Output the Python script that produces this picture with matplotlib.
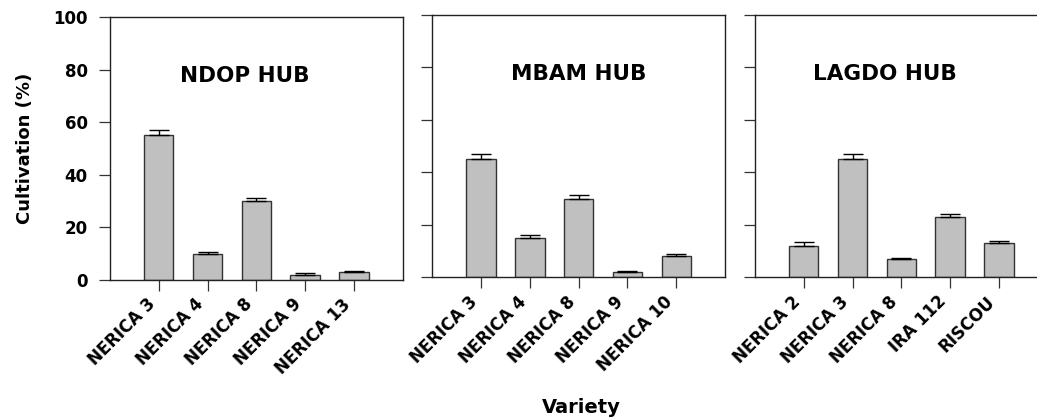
import matplotlib
matplotlib.use("Agg")
import matplotlib.pyplot as plt

plt.rcParams['font.family'] = ['DejaVu Sans']
plt.rcParams['font.weight'] = 'bold'

hubs = ["NDOP HUB", "MBAM HUB", "LAGDO HUB"]
ndop_varieties = ["NERICA 3", "NERICA 4", "NERICA 8", "NERICA 9", "NERICA 13"]
ndop_values = [55, 10, 30, 2, 3]
ndop_errors = [2, 0.8, 1.2, 0.5, 0.4]
mbam_varieties = ["NERICA 3", "NERICA 4", "NERICA 8", "NERICA 9", "NERICA 10"]
mbam_values = [45, 15, 30, 2, 8]
mbam_errors = [2, 1.2, 1.2, 0.4, 0.8]
lagdo_varieties = ["NERICA 2", "NERICA 3", "NERICA 8", "IRA 112", "RISCOU"]
lagdo_values = [12, 45, 7, 23, 13]
lagdo_errors = [1.4, 2, 0.5, 1.3, 0.9]

varieties = [ndop_varieties, mbam_varieties, lagdo_varieties]
values = [ndop_values, mbam_values, lagdo_values]
errors = [ndop_errors, mbam_errors, lagdo_errors]
title_x = [2.77, 3.0, 2.67]
yticks = [0, 20, 40, 60, 80, 100]

fig = plt.figure(figsize=(10.37, 4.19), dpi=100)
W, H = 1037, 419
boxes = [(110, 17, 402.7, 280), (432.3, 15, 725, 277.3), (755, 15, 1047.7, 277.3)]
for i, (x0, y0, x1, y1) in enumerate(boxes):
    ax = fig.add_axes([x0 / W, (H - y1) / H, (x1 - x0) / W, (y1 - y0) / H])
    pos = list(range(1, len(values[i]) + 1))
    ax.bar(pos, values[i], width=0.6, color='#c0c0c0', edgecolor='#333333', linewidth=1.0, zorder=2)
    ax.errorbar(pos, values[i], yerr=[[0] * len(errors[i]), errors[i]], fmt='none',
                ecolor='black', elinewidth=1.0, capsize=7, capthick=1.0, zorder=3)
    ax.set_xlim(0, 6)
    ax.set_ylim(0, 100)
    ax.set_yticks(yticks)
    ax.set_xticks(pos)
    ax.set_xticklabels(varieties[i], rotation=45, ha='right', rotation_mode='default',
                       fontsize=12, fontweight='bold')
    ax.tick_params(axis='both', direction='out', length=8, width=0.9, colors='#333333',
                   labelcolor='black')
    ax.tick_params(axis='y', pad=8)
    ax.tick_params(axis='x', pad=3)
    if i == 0:
        ax.set_yticklabels([str(v) for v in yticks], fontsize=12, fontweight='bold')
    else:
        ax.set_yticklabels([])
    for s in ax.spines.values():
        s.set_linewidth(1.0)
        s.set_color('#222222')
    ax.text(title_x[i], 77.5, hubs[i], ha='center', va='center', fontsize=15.5, fontweight='bold')

fig.text(25 / W, 1 - 148.5 / H, "Cultivation (%)", rotation=90, ha='center', va='center',
         fontsize=13, fontweight='bold')
fig.text(581 / W, 1 - 407 / H, "Variety", ha='center', va='center', fontsize=14, fontweight='bold')
fig.savefig("out.png", dpi=100)
